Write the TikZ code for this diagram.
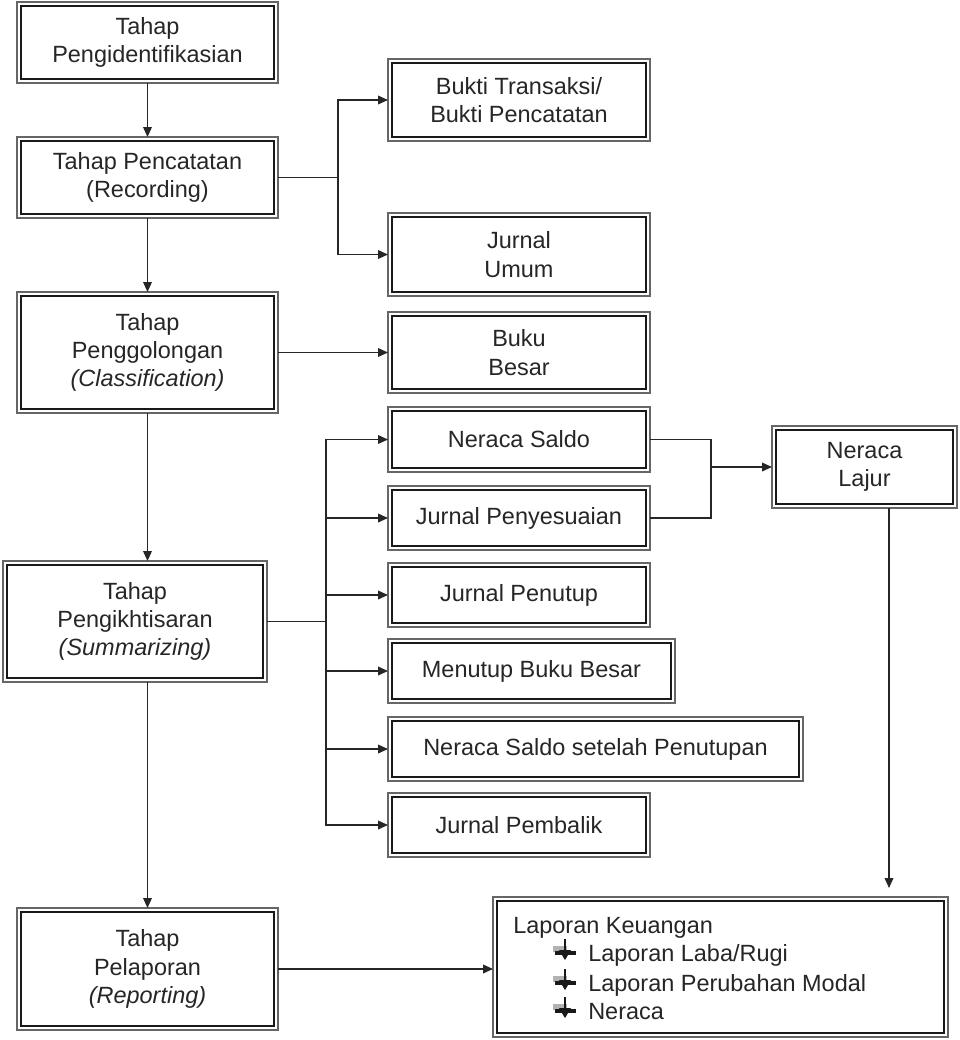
\documentclass[tikz,border=0pt]{standalone}
\usepackage{fontspec}
\setmainfont{Liberation Sans}
\usetikzlibrary{arrows.meta,calc}
\tikzset{
  box/.style={draw=black!60, line width=1.5pt, fill=white, inner sep=0pt, outer sep=0pt,
    align=center, font=\fontsize{17.6}{21.2}\selectfont, text=black!85},
  innerb/.style={draw=black!90, line width=1.7pt},
  conn/.style={draw=black!85, line width=1.1pt},
  arr/.style={conn, -{Triangle[length=7.5pt,width=6.5pt]}},
  lk/.style={anchor=base west, inner sep=0pt, font=\fontsize{17.6}{21.2}\selectfont, text=black!85},
}
\newcommand\bx[6]{%
  \pgfmathsetmacro\cx{(#2+#4)/2}\pgfmathsetmacro\cy{(#3+#5)/2}%
  \pgfmathsetmacro\ww{(#4-#2)*0.75}\pgfmathsetmacro\hh{(#5-#3)*0.75}%
  \node[box, minimum width=\ww pt, minimum height=\hh pt] (#1) at (\cx,\cy) {#6};
  \draw[innerb] ([shift={(4,4)}]#1.north west) rectangle ([shift={(-4,-4)}]#1.south east);}
\newcommand\icn[1]{%
  \fill[black!30] (553,#1-15) rectangle (567,#1-9);
  \draw[black!90, line width=1.8pt] (565,#1-22) -- (565,#1-2);
  \draw[black!90, line width=2.6pt] (555,#1-8) -- (576,#1-8);
  \fill[black!90] (559,#1-11) -- (571,#1-11) -- (565,#1-1) -- cycle;}
\begin{document}
\begin{tikzpicture}[x=0.75pt,y=-0.75pt]
\useasboundingbox[fill=white] (0,0) rectangle (960,1040);

% left column
\bx{ident}{17}{2}{278}{83}{Tahap\\Pengidentifikasian}
\bx{catat}{17}{137}{278}{218}{Tahap Pencatatan\\(Recording)}
\bx{golong}{17}{292}{278}{413}{Tahap\\Penggolongan\\\textit{(Classification)}}
\bx{ikhtisar}{3}{561}{267}{682}{Tahap\\Pengikhtisaran\\\textit{(Summarizing)}}
\bx{lapor}{17}{908}{278}{1030}{Tahap\\Pelaporan\\\textit{(Reporting)}}

% right column
\bx{bukti}{388}{59}{650}{141}{Bukti Transaksi/\\Bukti Pencatatan}
\bx{jumum}{388}{213}{650}{296}{Jurnal\\Umum}
\bx{bbesar}{388}{312}{650}{393}{Buku\\Besar}
\bx{nsaldo}{388}{407}{650}{472}{Neraca Saldo}
\bx{jpeny}{388}{486}{650}{550}{Jurnal Penyesuaian}
\bx{jtutup}{388}{563}{650}{627}{Jurnal Penutup}
\bx{mbb}{388}{639}{675}{703}{Menutup Buku Besar}
\bx{nsp}{388}{717}{803}{781}{Neraca Saldo setelah Penutupan}
\bx{jbalik}{388}{793}{650}{857}{Jurnal Pembalik}
\bx{lajur}{772}{426}{957}{508}{Neraca\\Lajur}
\bx{lapkeu}{493}{897}{948}{1037}{}

% Laporan Keuangan contents
\node[lk] (lk0) at (513,933) {Laporan Keuangan};
\node[lk] (lk1) at (588,961) {Laporan Laba/Rugi};
\node[lk] (lk2) at (588,991) {Laporan Perubahan Modal};
\node[lk] (lk3) at (588,1019) {Neraca};
\icn{961}
\icn{991}
\icn{1019}

% connectors
\draw[arr] (ident) -- (catat);
\draw[arr] (catat) -- (golong);
\draw[arr] (golong.south) -- (golong.south |- ikhtisar.north);
\draw[arr] (lapor.north |- ikhtisar.south) -- (lapor.north);

\coordinate (c1) at (338,177.5);
\draw[conn] (catat.east) -- (c1);
\draw[arr] (c1) |- (bukti.west);
\draw[arr] (c1) |- (jumum.west);

\draw[arr] (golong.east) -- (bbesar.west);

\coordinate (c2) at (326,621.5);
\draw[conn] (ikhtisar.east) -- (c2);
\foreach \t in {nsaldo,jpeny,jtutup,mbb,nsp,jbalik}
  \draw[arr] (c2) |- (\t.west);

\coordinate (c3) at (711,467);
\draw[conn] (nsaldo.east) -| (c3);
\draw[conn] (jpeny.east) -| (c3);
\draw[arr] (c3) -- (lajur.west);

\coordinate (c4) at (889,888);
\draw[arr] (lajur.south -| c4) -- (c4);

\draw[arr] (lapor.east) -- (lapor.east -| lapkeu.west);
\end{tikzpicture}
\end{document}
